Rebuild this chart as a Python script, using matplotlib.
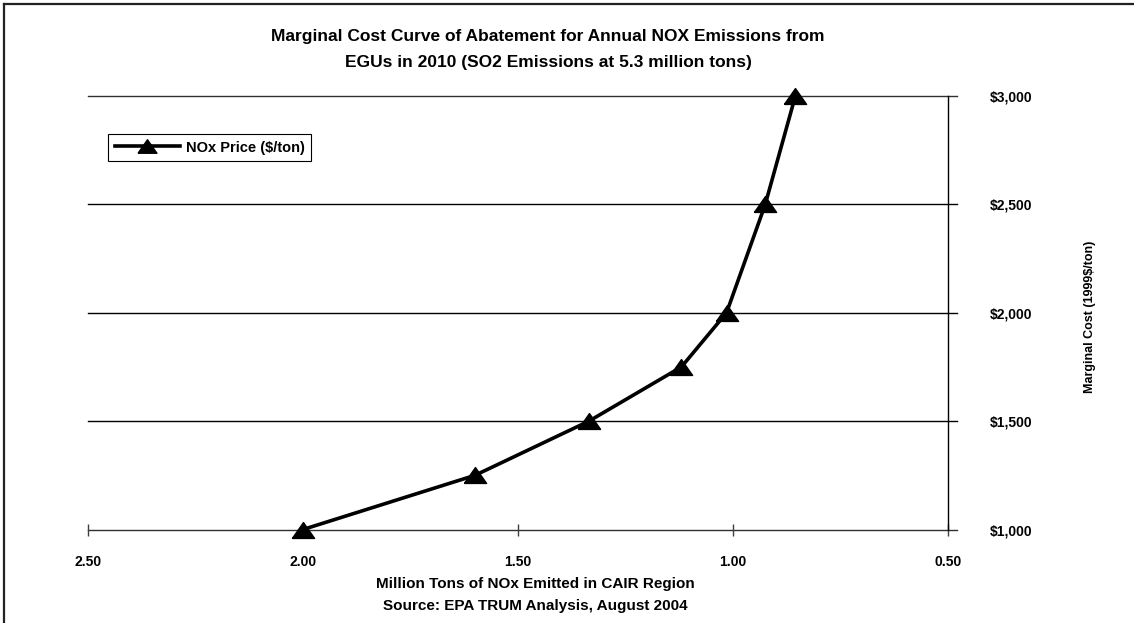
import numpy as np
import matplotlib
matplotlib.use("Agg")
import matplotlib.pyplot as plt
from matplotlib.lines import Line2D

# NOx emitted (million tons) vs. marginal price ($/ton)
nox_emitted = [2.00, 1.60, 1.335, 1.12, 1.015, 0.925, 0.855]
nox_price = [1000, 1250, 1500, 1750, 2000, 2500, 3000]

x_ticks = [2.50, 2.00, 1.50, 1.00, 0.50]
y_ticks = [1000, 1500, 2000, 2500, 3000]

plt.rcParams['font.family'] = ['Liberation Sans', 'DejaVu Sans']
plt.rcParams['font.weight'] = 'bold'

# wide triangle marker
tri = [(-1.4, -1.0), (1.4, -1.0), (0.0, 1.0), (-1.4, -1.0)]

fig = plt.figure(figsize=(11.34, 6.23), dpi=100)
ax = fig.add_axes([88/1134, 1 - 529.5/623, (948 - 88)/1134, (529.5 - 96)/623])

ax.plot(nox_emitted, nox_price, color='black', lw=2.6, marker=tri, ms=16,
        mfc='black', mec='black', label='NOx Price ($/ton)', zorder=3,
        clip_on=False)

ax.set_xlim(2.50, 0.50)
ax.set_ylim(1000, 3000)
ax.set_xticks(x_ticks)
ax.set_xticklabels(['%.2f' % v for v in x_ticks])
ax.set_yticks(y_ticks)
ax.set_yticklabels(['${:,}'.format(v) for v in y_ticks])

# gridlines running out through the tick marks on the right
for v in y_ticks:
    ax.add_line(Line2D([0, 1 + 9/860], [v, v], transform=ax.get_yaxis_transform(),
                       color='#303030' if v in (1000, 3000) else 'black',
                       lw=1.0, clip_on=False, zorder=1))

ax.yaxis.tick_right()
ax.tick_params(axis='y', length=0, pad=30, labelsize=10)
ax.tick_params(axis='x', direction='inout', length=8, width=1, color='#404040',
               pad=14, labelsize=10)
for side in ['left', 'top', 'bottom']:
    ax.spines[side].set_visible(False)
ax.spines['right'].set_linewidth(1.0)

leg = ax.legend(loc='upper left', bbox_to_anchor=(20/860, 1 - 38/433.5),
                borderaxespad=0, fancybox=False, edgecolor='black',
                handlelength=4.5, prop={'weight': 'bold', 'size': 10.5},
                borderpad=0.45, handletextpad=0.4, framealpha=1,
                markerscale=0.85)
leg.get_frame().set_linewidth(0.8)

fig.text(548/1134, 1 - 37/623,
         'Marginal Cost Curve of Abatement for Annual NOX Emissions from',
         ha='center', va='center', fontsize=12.5, fontweight='bold')
fig.text(548/1134, 1 - 63/623,
         'EGUs in 2010 (SO2 Emissions at 5.3 million tons)',
         ha='center', va='center', fontsize=12.5, fontweight='bold')

fig.text(535/1134, 1 - 584/623, 'Million Tons of NOx Emitted in CAIR Region',
         ha='center', va='center', fontsize=11, fontweight='bold')
fig.text(535/1134, 1 - 606/623, 'Source: EPA TRUM Analysis, August 2004',
         ha='center', va='center', fontsize=11, fontweight='bold')

fig.text(1090/1134, 1 - 317/623, 'Marginal Cost (1999$/ton)', rotation=90,
         ha='center', va='center', fontsize=9, fontweight='bold')

# outer frame on the top and left edges
fig.add_artist(Line2D([4/1134, 1], [1 - 4/623, 1 - 4/623], transform=fig.transFigure,
                      color='#222222', lw=1.6))
fig.add_artist(Line2D([4/1134, 4/1134], [0, 1 - 4/623], transform=fig.transFigure,
                      color='#222222', lw=1.6))

fig.savefig('out.png', dpi=100)
